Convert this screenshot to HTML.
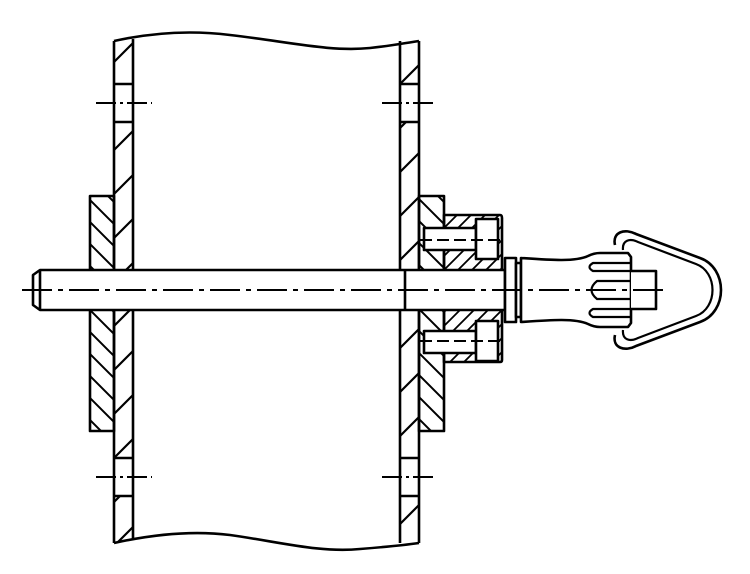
<!DOCTYPE html>
<html><head><style>html,body{margin:0;padding:0;background:#fff}svg{display:block}</style></head>
<body>
<svg width="750" height="574" viewBox="0 0 750 574" xmlns="http://www.w3.org/2000/svg">
<defs>
<pattern id="hw" patternUnits="userSpaceOnUse" width="44" height="44">
<path d="M-4,4 L4,-4 M0,44 L44,0 M40,48 L48,40" stroke="#000" stroke-width="2.2"/>
</pattern>
<pattern id="hf" patternUnits="userSpaceOnUse" width="22" height="22">
<path d="M0,0 L22,22 M-4,18 L4,26 M18,-4 L26,4" stroke="#000" stroke-width="2"/>
</pattern>
<pattern id="hh" patternUnits="userSpaceOnUse" width="14" height="14">
<path d="M0,14 L14,0 M-4,4 L4,-4 M10,18 L18,10" stroke="#000" stroke-width="1.8"/>
</pattern>
</defs>
<g fill="none" stroke="#000" stroke-width="2.6" stroke-linejoin="round">
<rect x="114" y="41" width="19" height="500" fill="url(#hw)" stroke="none"/>
<rect x="400" y="41" width="19" height="500" fill="url(#hw)" stroke="none"/>
<rect x="90" y="196" width="24" height="235" fill="url(#hf)"/>
<rect x="419" y="196" width="25" height="235" fill="url(#hf)"/>
<path d="M444,215 L500,215 Q502,215 502,218 L502,360 Q502,362 500,362 L444,362 Z" fill="url(#hh)"/>
<rect x="115" y="84" width="17" height="38" fill="#fff" stroke="none"/>
<rect x="401" y="84" width="17" height="38" fill="#fff" stroke="none"/>
<rect x="115" y="458" width="17" height="38" fill="#fff" stroke="none"/>
<rect x="401" y="458" width="17" height="38" fill="#fff" stroke="none"/>
<rect x="115" y="270" width="17" height="40" fill="#fff" stroke="none"/>
<rect x="401" y="270" width="17" height="40" fill="#fff" stroke="none"/>
<rect x="91" y="270" width="23" height="40" fill="#fff" stroke="none"/>
<rect x="420" y="270" width="82" height="40" fill="#fff" stroke="none"/>
<path d="M115 84H132M115 122H132M401 84H419M401 122H419M115 458H132M115 496H132M401 458H419M401 496H419"/>
<path d="M114,41 L114,543 M133,39 L133,540 M400,41 L400,543 M419,41 L419,543"/>
<path d="M114,41 C150,33 190,30 230,35 C290,42 330,52 370,48 C390,46 405,43 419,41"/>
<path d="M114,543 C150,535 190,530 230,535 C280,542 320,553 360,549 C385,547 405,545 419,543"/>
<path d="M96,103 H152 M382,103 H437 M96,477 H152 M382,477 H437" stroke-width="2" stroke-dasharray="20,4,3,4"/>
<g fill="#fff">
<rect x="424" y="228" width="52" height="22"/>
<rect x="476" y="219" width="22" height="40"/>
<rect x="424" y="331" width="52" height="22"/>
<rect x="476" y="321" width="22" height="40"/>
</g>
<path d="M420,240 H505 M420,341 H505" stroke-width="2" stroke-dasharray="12,5"/>
<path d="M40,270 L505,270 L505,310 L40,310 L33,305 L33,275 Z" fill="#fff"/>
<path d="M40,270 V310 M405,270 V310"/>
<rect x="505" y="258" width="11" height="64" fill="#fff"/>
<rect x="516" y="263" width="5" height="54" fill="#fff"/>
<path d="M615,245 C612,232 625,228 636,234 L700,258 C728,268 728,312 700,322 L636,346 C625,352 612,348 615,335" stroke-width="2.6"/>
<path d="M623,250 C622,240 630,238 638,242 L696,264 C718,272 718,308 696,316 L638,338 C630,342 622,340 623,330" stroke-width="2.2"/>
<path d="M521,258 C550,260 575,262 588,256 Q594,253 600,253 L628,253 L631,257 L631,323 L628,327 L600,327 Q594,327 588,324 C575,318 550,320 521,322 Z" fill="#fff"/>
<path d="M631,271 H656 V309 H631" fill="#fff"/>
<path d="M631,263 H593 Q586,267 593,271 H631 M631,309 H593 Q586,313 593,317 H631 M631,281 H597 Q586,290 597,299 H631" stroke-width="2.2"/>
<path d="M22,290 H665" stroke-width="2" stroke-dasharray="30,6,5,6"/>
</g>
</svg>
</body></html>
